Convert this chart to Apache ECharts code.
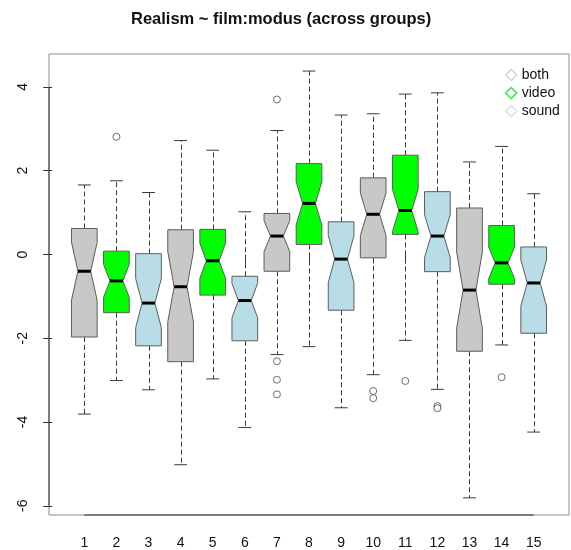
<!DOCTYPE html>
<html>
<head>
<meta charset="utf-8">
<title>Realism ~ film:modus</title>
<script src="https://cdn.jsdelivr.net/npm/echarts@6/dist/echarts.min.js"></script>
<style>
  html, body { margin: 0; padding: 0; background: #fff; }
  #chart { width: 571px; height: 550px; }
</style>
</head>
<body>
<div id="chart"></div>
<script>
// Group labels (film:modus combinations) and the modus of each group
const groups = ['1','2','3','4','5','6','7','8','9','10','11','12','13','14','15'];
const modus  = ['both','video','sound','both','video','sound','both','video','sound',
                'both','video','sound','both','video','sound'];

// Five-number summaries per group
const whiskerLow  = [-3.81, -3.01, -3.23, -5.02, -2.97, -4.13, -2.39, -2.20, -3.66, -2.87, -2.05, -3.22, -5.81, -2.16, -4.24];
const lowerHinge  = [-1.97, -1.39, -2.18, -2.56, -0.97, -2.06, -0.40,  0.24, -1.33, -0.08,  0.48, -0.41, -2.31, -0.71, -1.88];
const medians     = [-0.40, -0.63, -1.16, -0.77, -0.15, -1.10,  0.44,  1.22, -0.11,  0.96,  1.05,  0.44, -0.85, -0.20, -0.68];
const upperHinge  = [ 0.62,  0.08,  0.02,  0.59,  0.60, -0.52,  0.98,  2.17,  0.78,  1.83,  2.37,  1.50,  1.11,  0.69,  0.18];
const whiskerHigh = [ 1.66,  1.76,  1.48,  2.72,  2.49,  1.02,  2.96,  4.38,  3.33,  3.36,  3.83,  3.86,  2.21,  2.58,  1.45];
// Observations per group (used for the notch half-width 1.58*IQR/sqrt(n))
const groupSize   = [35, 35, 35, 35, 35, 35, 35, 35, 35, 35, 35, 35, 35, 35, 35];

// Outlying points: group number and value
const outlierGroup = [2, 7, 7, 7, 7, 10, 10, 11, 12, 12, 14];
const outlierValue = [2.81, 3.70, -2.55, -2.99, -3.34, -3.26, -3.43, -3.02, -3.62, -3.67, -2.93];

// Y tick labels
const yTicks = [-6, -4, -2, 0, 2, 4];

const modusNames  = ['both', 'video', 'sound'];
const modusFill   = { both: '#c8c8c8', video: '#00ff00', sound: '#b9dde6' };
const legendColor = { both: '#d4d4d4', video: '#33ee33', sound: '#d2e5ec' };

const FONT = "'Liberation Sans', Arial, Helvetica, sans-serif";
const BOX_HALF = 0.4;   // half of boxwex 0.8
const INK = '#3a3a3a';

function renderBox(params, api) {
  const x   = api.value(0);
  const lo  = api.value(1);
  const q1  = api.value(2);
  const med = api.value(3);
  const q3  = api.value(4);
  const hi  = api.value(5);
  const n   = api.value(6);
  const half = 1.58 * (q3 - q1) / Math.sqrt(n);
  const nLo = med - half, nHi = med + half;
  const w = BOX_HALF;
  const P = (dx, v) => api.coord([x + dx, v]);
  const seg = (dx1, v1, dx2, v2) => { const a = P(dx1, v1), b = P(dx2, v2); return { x1: a[0], y1: a[1], x2: b[0], y2: b[1] }; };
  // vertical whisker snapped to the pixel grid so the dashes stay crisp
  const vseg = (v1, v2) => {
    const a = P(0, v1), b = P(0, v2);
    const px = Math.round(a[0]) + 0.5;
    return { x1: px, y1: a[1], x2: px, y2: b[1] };
  };
  const fill = api.visual('color');

  const outline = [
    P(-w, q3), P(w, q3), P(w, nHi), P(w / 2, med), P(w, nLo), P(w, q1),
    P(-w, q1), P(-w, nLo), P(-w / 2, med), P(-w, nHi)
  ];
  const dash = { stroke: INK, lineWidth: 1, lineDash: [5, 3] };
  const solid = { stroke: INK, lineWidth: 1 };
  const capW = w / 2;
  return {
    type: 'group',
    children: [
      { type: 'line', shape: vseg(q3, hi), style: dash },
      { type: 'line', shape: vseg(q1, lo), style: dash },
      { type: 'line', shape: seg(-capW, hi, capW, hi), style: solid },
      { type: 'line', shape: seg(-capW, lo, capW, lo), style: solid },
      { type: 'polygon', shape: { points: outline }, style: { fill: fill, stroke: '#5c5c5c', lineWidth: 1 } },
      { type: 'line', shape: seg(-w / 2, med, w / 2, med), style: { stroke: '#000', lineWidth: 3 } }
    ]
  };
}

const boxSeries = modusNames.map(m => ({
  name: m,
  type: 'custom',
  renderItem: renderBox,
  itemStyle: { color: modusFill[m] },
  encode: { x: 0, y: [1, 2, 3, 4, 5] },
  data: groups
    .map((g, i) => [i + 1, whiskerLow[i], lowerHinge[i], medians[i], upperHinge[i], whiskerHigh[i], groupSize[i]])
    .filter((d, i) => modus[i] === m),
  z: 2
}));

const xMin = -0.1, xMax = 16.1, yMin = -6.22, yMax = 4.787;

// Axis lines along the plot frame, spanning only the tick range
const axisSeries = {
  type: 'custom',
  silent: true,
  clip: false,
  data: [[0]],
  renderItem: (params, api) => {
    const a = api.coord([xMin, yTicks[0]]), b = api.coord([xMin, yTicks[yTicks.length - 1]]);
    const c = api.coord([1, yMin]), d = api.coord([groups.length, yMin]);
    const st = { stroke: '#333', lineWidth: 1 };
    return {
      type: 'group',
      children: [
        { type: 'line', shape: { x1: a[0], y1: a[1], x2: b[0], y2: b[1] }, style: st },
        { type: 'line', shape: { x1: c[0], y1: c[1], x2: d[0], y2: d[1] }, style: st }
      ]
    };
  },
  z: 5
};

const outlierSeries = {
  type: 'scatter',
  symbol: 'circle',
  symbolSize: 7,
  itemStyle: { color: '#fff', borderColor: '#4a4a4a', borderWidth: 1 },
  data: outlierGroup.map((g, i) => [g, outlierValue[i]]),
  z: 3
};

const chart = echarts.init(document.getElementById('chart'), null, { renderer: 'canvas' });
chart.setOption({
  animation: false,
  backgroundColor: '#fff',
  textStyle: { fontFamily: FONT },
  title: {
    text: 'Realism ~ film:modus (across groups)',
    left: 131,
    top: 11,
    padding: 0,
    textStyle: { fontFamily: FONT, fontSize: 16.5, fontWeight: 'bold', color: '#111' }
  },
  legend: {
    orient: 'vertical',
    left: 500,
    top: 63,
    itemWidth: 11,
    itemHeight: 11,
    itemGap: 4,
    selectedMode: false,
    textStyle: { fontFamily: FONT, fontSize: 14, color: '#111' },
    data: modusNames.map(m => ({
      name: m,
      icon: 'diamond',
      itemStyle: { color: '#fff', borderColor: legendColor[m], borderWidth: 1.5 }
    }))
  },
  grid: {
    left: 49, right: 2, top: 54, bottom: 34,
    show: true, borderColor: '#8c8c8c', borderWidth: 1, backgroundColor: 'transparent'
  },
  xAxis: {
    type: 'value',
    min: xMin, max: xMax,
    splitLine: { show: false },
    axisLine: { show: false },
    axisTick: { show: true, length: 9, lineStyle: { color: '#333' }, customValues: groups.map((g, i) => i + 1) },
    axisLabel: {
      margin: 21, fontSize: 14, color: '#111', fontFamily: FONT,
      customValues: groups.map((g, i) => i + 1),
      formatter: v => groups[Math.round(v) - 1] || ''
    }
  },
  yAxis: {
    type: 'value',
    min: yMin, max: yMax,
    splitLine: { show: false },
    axisLine: { show: false },
    axisTick: { show: true, length: 9, lineStyle: { color: '#333' }, customValues: yTicks },
    axisLabel: {
      margin: 19, fontSize: 14, color: '#111', fontFamily: FONT, rotate: 90,
      customValues: yTicks
    }
  },
  series: [...boxSeries, outlierSeries, axisSeries]
});
</script>
</body>
</html>
